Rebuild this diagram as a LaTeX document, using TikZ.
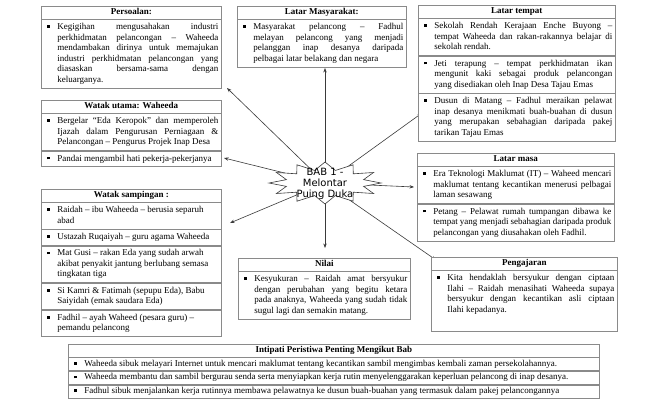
\documentclass[tikz,border=0pt]{standalone}
\usepackage{fontspec}
\setmainfont{Liberation Serif}
\newfontfamily\babfont{DejaVu Sans}
\usetikzlibrary{arrows.meta}
\definecolor{boxgray}{HTML}{8A8A8A}
\definecolor{arrgray}{HTML}{3A3A3A}
\newcommand\bodyfont{\fontsize{9}{10.6}\selectfont}
\newcommand\bul{\rule[1.6pt]{2.6pt}{2.6pt}}
\newcommand\bulbox{\makebox[13pt][l]{\hspace*{3pt}\bul}}
\newlength\linew
\newcommand\jline[1]{\makebox[\linew][s]{#1}}
% item: width, text  (lines separated by \\, full lines wrapped in \jline)
\newcommand\bj[2]{\bulbox\parbox[t]{#1}{\bodyfont\raggedright\setlength\linew{#1}\strut #2\strut}}
% item with fixed height: width, height, text
\newcommand\bh[3]{\bulbox\parbox[t][#2][t]{#1}{\bodyfont\raggedright\setlength\linew{#1}\strut #3\strut}}
\tikzset{
  hdr/.style={draw=boxgray, line width=0.7pt, fill=white, anchor=north west,
    inner xsep=0pt, inner ysep=1pt, minimum width=#1, align=center, font=\bodyfont\bfseries},
  row/.style={draw=boxgray, line width=0.7pt, fill=white, anchor=north west,
    inner xsep=3pt, inner ysep=2.5pt, font=\bodyfont},
  rowb/.style={row, inner ysep=1.2pt},
  arr/.style={draw=arrgray, line width=0.6pt, -{Stealth[length=4.5pt,width=3.4pt]}},
}
\begin{document}
\begin{tikzpicture}[x=1pt,y=-1pt]
\useasboundingbox (0,0) rectangle (650,400);

% ---------- arrows (drawn first, star covers their start) ----------
\coordinate (bab) at (325,183);
\coordinate (tP) at (227,88);
\coordinate (tLM) at (325,68);
\coordinate (tLT) at (422,113);
\coordinate (tWU) at (224,158);
\coordinate (tWS) at (230,223);
\coordinate (tLMa) at (414,187);
\coordinate (tN) at (325,248);
\coordinate (tPg) at (436,260);
\foreach \t in {tP,tLM,tLT,tWU,tWS,tLMa,tN,tPg}{\draw[arr] (bab) -- (\t);}

% ---------- star ----------
\path[draw=arrgray, line width=0.6pt, fill=white]
  plot[variable=\t, samples=25, domain=0:24]
  ({325+ifthenelse(mod(round(\t),2)==0,56,40)*cos(\t*15)},
   {183+ifthenelse(mod(round(\t),2)==0,21,13)*sin(\t*15)}) -- cycle;
\begin{scope}
\clip (268,156) rectangle (382,198);
\node[align=center, font=\babfont\fontsize{10}{11}\selectfont, inner sep=0pt] (babtxt) at (325,184)
  {BAB 1 -\\Melontar\\Puing Duka};
\end{scope}

% ---------- Persoalan ----------
\node[hdr=180pt] (pH) at (41,6) {\strut Persoalan:};
\node[row] (pB) at (pH.south west) {\bj{161pt}{\jline{Kegigihan mengusahakan industri}\\
 \jline{perkhidmatan pelancongan -- Waheeda}\\ \jline{mendambakan dirinya untuk memajukan}\\
 \jline{industri perkhidmatan pelancongan yang}\\ \jline{diasaskan bersama-sama dengan}\\ keluarganya.}};

% ---------- Latar Masyarakat ----------
\node[hdr=169pt] (mH) at (237,6) {\strut Latar Masyarakat:};
\node[row] (mB) at (mH.south west) {\bj{150pt}{\jline{Masyarakat pelancong -- Fadhul}\\
 \jline{melayan pelancong yang menjadi}\\ \jline{pelanggan inap desanya daripada}\\
 pelbagai latar belakang dan negara}};

% ---------- Latar tempat ----------
\node[hdr=197pt] (tH) at (418,5) {\strut Latar tempat};
\node[row] (t1) at (tH.south west) {\bj{178pt}{\jline{Sekolah Rendah Kerajaan Enche Buyong --}\\
 \jline{tempat Waheeda dan rakan-rakannya belajar di}\\ sekolah rendah.}};
\node[row] (t2) at (t1.south west) {\bj{178pt}{\jline{Jeti terapung -- tempat perkhidmatan ikan}\\
 \jline{mengunit kaki sebagai produk pelancongan}\\ yang disediakan oleh Inap Desa Tajau Emas}};
\node[row] (t3) at (t2.south west) {\bj{178pt}{\jline{Dusun di Matang -- Fadhul meraikan pelawat}\\
 \jline{inap desanya menikmati buah-buahan di dusun}\\ \jline{yang merupakan sebahagian daripada pakej}\\
 tarikan Tajau Emas}};

% ---------- Watak utama ----------
\node[hdr=180pt] (uH) at (41,100) {\strut Watak utama: Waheeda};
\node[row] (u1) at (uH.south west) {\bj{161pt}{\jline{Bergelar ``Eda Keropok'' dan memperoleh}\\
 \jline{Ijazah dalam Pengurusan Perniagaan \&}\\ Pelancongan -- Pengurus Projek Inap Desa}};
\node[row] (u2) at (u1.south west) {\bj{161pt}{Pandai mengambil hati pekerja-pekerjanya}};

% ---------- Watak sampingan ----------
\node[hdr=180pt] (sH) at (41,189) {\strut Watak sampingan :};
\node[row] (s1) at (sH.south west) {\bj{161pt}{Raidah -- ibu Waheeda -- berusia separuh\\ abad}};
\node[row] (s2) at (s1.south west) {\bj{161pt}{Ustazah Ruqaiyah -- guru agama Waheeda}};
\node[row] (s3) at (s2.south west) {\bj{161pt}{Mat Gusi -- rakan Eda yang sudah arwah\\
 akibat penyakit jantung berlubang semasa\\ tingkatan tiga}};
\node[row] (s4) at (s3.south west) {\bj{161pt}{Si Kamri \& Fatimah (sepupu Eda), Babu\\
 Saiyidah (emak saudara Eda)}};
\node[row] (s5) at (s4.south west) {\bj{161pt}{Fadhil -- ayah Waheed (pesara guru) --\\
 pemandu pelancong}};

% ---------- Latar masa ----------
\node[hdr=197pt] (aH) at (417,153) {\strut Latar masa};
\node[row] (a1) at (aH.south west) {\bj{178pt}{\jline{Era Teknologi Maklumat (IT) -- Waheed mencari}\\
 \jline{maklumat tentang kecantikan menerusi pelbagai}\\ laman sesawang}};
\node[row] (a2) at (a1.south west) {\bj{178pt}{\jline{Petang -- Pelawat rumah tumpangan dibawa ke}\\
 \jline{tempat yang menjadi sebahagian daripada produk}\\ pelancongan yang diusahakan oleh Fadhil.}};

% ---------- Nilai ----------
\node[hdr=172pt] (nH) at (238,258) {\strut Nilai};
\node[row] (nB) at (nH.south west) {\bj{153pt}{\jline{Kesyukuran -- Raidah amat bersyukur}\\
 \jline{dengan perubahan yang begitu ketara}\\ \jline{pada anaknya, Waheeda yang sudah tidak}\\
 sugul lagi dan semakin matang.}};

% ---------- Pengajaran ----------
\node[hdr=186pt] (gH) at (431,257) {\strut Pengajaran};
\node[row] (gB) at (gH.south west) {\bh{167pt}{56pt}{\jline{Kita hendaklah bersyukur dengan ciptaan}\\
 \jline{Ilahi -- Raidah menasihati Waheeda supaya}\\ \jline{bersyukur dengan kecantikan asli ciptaan}\\
 Ilahi kepadanya.}};

% ---------- Intipati ----------
\node[hdr=531pt] (iH) at (68,344) {\strut Intipati Peristiwa Penting Mengikut Bab};
\node[rowb] (i1) at (iH.south west) {\bj{512pt}{Waheeda sibuk melayari Internet untuk mencari maklumat tentang kecantikan sambil mengimbas kembali zaman persekolahannya.}};
\node[rowb] (i2) at (i1.south west) {\bj{512pt}{Waheeda membantu dan sambil bergurau senda serta menyiapkan kerja rutin menyelenggarakan keperluan pelancong di inap desanya.}};
\node[rowb] (i3) at (i2.south west) {\bj{512pt}{Fadhul sibuk menjalankan kerja rutinnya membawa pelawatnya ke dusun buah-buahan yang termasuk dalam pakej pelancongannya}};
\end{tikzpicture}
\end{document}
